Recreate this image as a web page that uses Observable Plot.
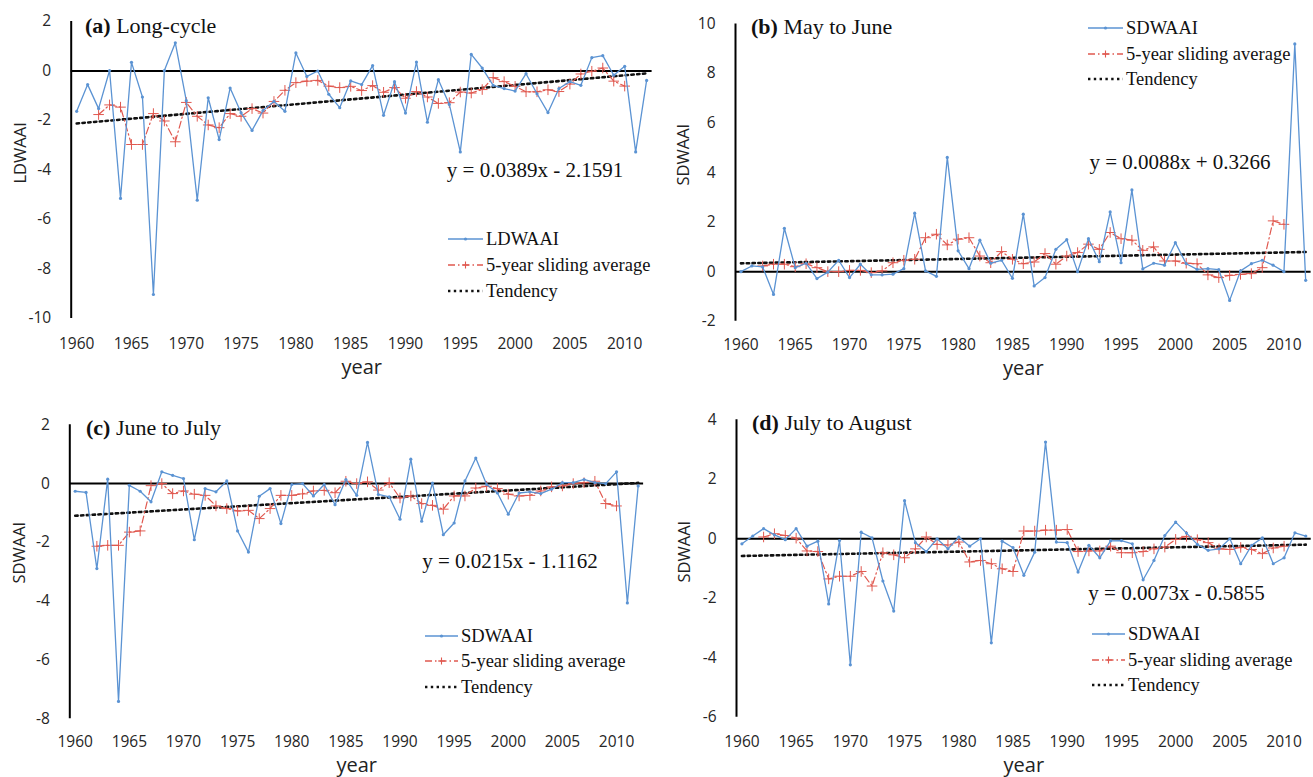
<!DOCTYPE html>
<html><head><meta charset="utf-8">
<script src="https://cdn.jsdelivr.net/npm/d3@7"></script>
<script src="https://cdn.jsdelivr.net/npm/@observablehq/plot@0.6"></script>
<style>
body{margin:0;background:#fff;}
#wrap{position:relative;width:1313px;height:777px;overflow:hidden;background:#fff;}
.panel{position:absolute;}
.panel svg{overflow:visible;}
#overlay{position:absolute;left:0;top:0;pointer-events:none;}
</style></head><body><div id="wrap"></div>
<script>
// ---------- data ----------
const years = [1960,1961,1962,1963,1964,1965,1966,1967,1968,1969,1970,1971,1972,1973,1974,1975,1976,1977,1978,1979,
  1980,1981,1982,1983,1984,1985,1986,1987,1988,1989,1990,1991,1992,1993,1994,1995,1996,1997,1998,1999,
  2000,2001,2002,2003,2004,2005,2006,2007,2008,2009,2010,2011,2012];
const xTicks = [1960,1965,1970,1975,1980,1985,1990,1995,2000,2005,2010];

// (a) Long-cycle LDWAAI
const aValues = [-1.63,-0.55,-1.52,0.02,-5.15,0.35,-1.05,-9.03,0.02,1.14,-1.2,-5.22,-1.08,-2.77,-0.69,-1.69,-2.4,-1.6,-1.23,-1.63,
  0.73,-0.22,0.0,-0.94,-1.48,-0.4,-0.55,0.22,-1.79,-0.43,-1.7,0.36,-2.07,-0.35,-1.35,-3.27,0.67,0.12,-0.58,-0.71,
  -0.81,-0.11,-0.92,-1.68,-0.71,-0.43,-0.58,0.54,0.62,-0.17,0.19,-3.27,-0.38];
const aAvg = [null,null,-1.76,-1.37,-1.46,-2.97,-2.97,-1.72,-2.02,-2.86,-1.27,-1.83,-2.18,-2.29,-1.72,-1.83,-1.52,-1.7,-1.23,-0.78,
  -0.47,-0.41,-0.38,-0.61,-0.67,-0.62,-0.79,-0.59,-0.86,-0.67,-1.1,-0.83,-1.05,-1.31,-1.28,-0.85,-0.89,-0.75,-0.27,-0.43,
  -0.62,-0.84,-0.84,-0.76,-0.83,-0.53,-0.12,-0.01,0.12,-0.41,-0.61,null,null];
const aTrend = [0.0389, -2.1591];
const aTicks = [-10,-8,-6,-4,-2,0,2];

// (b) May to June SDWAAI
const bValues = [0.0,0.23,0.19,-0.92,1.75,0.16,0.34,-0.28,-0.02,0.46,-0.24,0.3,-0.13,-0.13,-0.1,0.12,2.36,0.03,-0.19,4.61,
  0.84,0.12,1.27,0.34,0.46,-0.27,2.32,-0.58,-0.24,0.9,1.29,0.0,1.33,0.4,2.41,0.36,3.3,0.11,0.34,0.26,
  1.17,0.32,0.09,0.12,0.08,-1.16,0.03,0.32,0.46,0.26,0.0,9.19,-0.35];
const bAvg = [null,null,0.23,0.3,0.3,0.2,0.32,0.16,0.0,0.0,0.05,0.05,-0.04,0.03,0.36,0.46,0.5,1.37,1.51,1.08,
  1.31,1.37,0.63,0.36,0.81,0.5,0.32,0.39,0.73,0.3,0.63,0.77,1.11,0.9,1.58,1.33,1.27,0.86,1.0,0.43,
  0.43,0.34,0.32,-0.13,-0.24,-0.15,-0.11,-0.08,0.16,2.05,1.91,null,null];
const bTrend = [0.0088, 0.3266];
const bTicks = [-2,0,2,4,6,8,10];

// (c) June to July SDWAAI
const cValues = [-0.26,-0.3,-2.89,0.15,-7.41,-0.06,-0.26,-0.62,0.4,0.28,0.17,-1.91,-0.17,-0.28,0.09,-1.61,-2.33,-0.43,-0.17,-1.36,
  -0.03,0.0,-0.42,-0.03,-0.72,0.14,-0.4,1.4,-0.37,-0.45,-1.21,0.83,-1.28,0.02,-1.74,-1.34,0.09,0.87,-0.03,-0.32,
  -1.04,-0.32,-0.28,-0.34,-0.19,0.03,0.03,0.14,0.03,0.0,0.4,-4.06,-0.08];
const cAvg = [null,null,-2.13,-2.1,-2.1,-1.65,-1.61,-0.07,0.0,-0.34,-0.25,-0.36,-0.4,-0.76,-0.85,-0.93,-0.91,-1.19,-0.85,-0.4,
  -0.4,-0.35,-0.25,-0.23,-0.31,0.08,0.0,0.06,-0.22,0.03,-0.49,-0.42,-0.68,-0.74,-0.87,-0.42,-0.42,-0.15,-0.09,-0.17,
  -0.36,-0.42,-0.4,-0.25,-0.11,-0.08,0.0,0.03,0.08,-0.68,-0.76,null,null];
const cTrend = [0.0215, -1.1162];
const cTicks = [-8,-6,-4,-2,0,2];

// (d) July to August SDWAAI
const dValues = [-0.17,0.09,0.34,0.13,-0.03,0.34,-0.25,-0.08,-2.19,-0.06,-4.24,0.22,0.03,-1.42,-2.43,1.28,-0.13,-0.43,0.0,-0.34,
  0.06,-0.25,0.0,-3.5,-0.08,-0.3,-1.23,-0.45,3.25,-0.11,-0.13,-1.12,-0.22,-0.64,-0.07,-0.06,-0.17,-1.38,-0.73,0.11,
  0.56,0.19,-0.19,-0.39,-0.34,0.0,-0.84,-0.22,0.03,-0.84,-0.64,0.2,0.09];
const dAvg = [null,null,0.06,0.17,0.11,0.02,-0.41,-0.43,-1.35,-1.26,-1.26,-1.1,-1.59,-0.47,-0.54,-0.64,-0.34,0.06,-0.19,-0.21,
  -0.11,-0.78,-0.73,-0.84,-1.01,-1.1,0.26,0.26,0.29,0.29,0.31,-0.43,-0.41,-0.41,-0.25,-0.47,-0.47,-0.43,-0.34,-0.28,
  -0.02,0.08,-0.03,-0.13,-0.34,-0.36,-0.29,-0.36,-0.5,-0.31,-0.25,null,null];
const dTrend = [0.0073, -0.5855];
const dTicks = [-6,-4,-2,0,2,4];

const titles = [["(a)", "Long-cycle"], ["(b)", "May to June"], ["(c)", "June to July"], ["(d)", "July to August"]];
const equations = ["y = 0.0389x - 2.1591", "y = 0.0088x + 0.3266", "y = 0.0215x - 1.1162", "y = 0.0073x - 0.5855"];
const legendLabels = [["LDWAAI", "5-year sliding average", "Tendency"], ["SDWAAI", "5-year sliding average", "Tendency"],
  ["SDWAAI", "5-year sliding average", "Tendency"], ["SDWAAI", "5-year sliding average", "Tendency"]];
const yLabels = ["LDWAAI", "SDWAAI", "SDWAAI", "SDWAAI"];

// ---------- style ----------
const blue = "#5b93d3";
const red = "#e0584f";
const sans = "'Open Sans', 'Liberation Sans', Arial, sans-serif";
const serif = "'Liberation Serif', 'Times New Roman', serif";
const fmt = d => (d < 0 ? "-" + Math.abs(d) : String(d));

const layout = [
  {left:0, top:0, width:656, height:390, ml:70.7, mr:4.4, mt:21, mb:72, xPad:19.5, yearDy:55, ylDx:-50.7, ylDy:13.5,
   title:[85,32.7], eq:[535,177], leg:{x0:448,x1:483,rows:[239,265,291]}},
  {left:655, top:0, width:658, height:390, ml:80, mr:2.4, mt:23.4, mb:69.3, xPad:18, yearDy:53.3, ylDx:-52, ylDy:13,
   title:[751,34], eq:[1180,169], leg:{x0:1088,x1:1123,rows:[28,54,79]}},
  {left:0, top:390, width:656, height:387, ml:69.3, mr:12.9, mt:34.3, mb:58.7, xPad:17.3, yearDy:52.7, ylDx:-50, ylDy:11.7,
   title:[86,435], eq:[510,568.3], leg:{x0:425,x1:458,rows:[636,661,687]}},
  {left:655, top:390, width:658, height:387, ml:81, mr:2.3, mt:29.3, mb:60.3, xPad:18.6, yearDy:54.3, ylDx:-52, ylDy:14,
   title:[752,430], eq:[1176.5,600], leg:{x0:1092,x1:1125,rows:[634,660,685]}}
];
const series = [
  {values:aValues, avg:aAvg, trend:aTrend, ticks:aTicks},
  {values:bValues, avg:bAvg, trend:bTrend, ticks:bTicks},
  {values:cValues, avg:cAvg, trend:cTrend, ticks:cTicks},
  {values:dValues, avg:dAvg, trend:dTrend, ticks:dTicks}
];

function panel(s, L, ylabel) {
  const data = years.map((yr, i) => ({year: yr, v: s.values[i], a: s.avg[i]}));
  const ends = [years[0], years[years.length - 1]];
  const trend = ends.map(yr => ({year: yr, t: s.trend[0] * (yr - years[0] + 1) + s.trend[1]}));
  const yDomain = [s.ticks[0], s.ticks[s.ticks.length - 1]];
  return Plot.plot({
    width: L.width, height: L.height,
    marginLeft: L.ml, marginRight: L.mr, marginTop: L.mt, marginBottom: L.mb,
    style: {background: "transparent", fontFamily: sans, fontSize: "15.5px", color: "#262626", overflow: "visible"},
    x: {domain: [1959.5, 2012.5], label: null},
    y: {domain: yDomain, label: null},
    marks: [
      Plot.axisX({ticks: xTicks, tickSize: 0, tickPadding: L.xPad, tickFormat: d => String(d), label: null}),
      Plot.axisY({ticks: s.ticks, tickSize: 0, tickPadding: 20, tickFormat: fmt, label: null}),
      Plot.ruleX([1959.5], {stroke: "#000", strokeWidth: 2}),
      Plot.ruleY([0], {stroke: "#000", strokeWidth: 2}),
      Plot.line(trend, {x: "year", y: "t", stroke: "#111", strokeWidth: 2.6, strokeDasharray: "2.4,3.4"}),
      Plot.line(data, {x: "year", y: "a", stroke: red, strokeWidth: 1.2, strokeDasharray: "7,3,1.5,3"}),
      Plot.dot(data, {x: "year", y: "a", symbol: "plus", r: 3.5, stroke: red, strokeWidth: 1}),
      Plot.line(data, {x: "year", y: "v", stroke: blue, strokeWidth: 1.3}),
      Plot.dot(data, {x: "year", y: "v", r: 1.6, fill: blue, stroke: null}),
      Plot.text(["year"], {text: d => d, frameAnchor: "bottom", lineAnchor: "bottom", dy: L.yearDy, fontSize: 20, fill: "#222"}),
      Plot.text([ylabel], {text: d => d, frameAnchor: "left", rotate: -90, dx: L.ylDx, dy: L.ylDy, fontSize: 16.5, fill: "#222"})
    ]
  });
}

const wrap = document.getElementById("wrap");
series.forEach((s, i) => {
  const L = layout[i];
  const div = document.createElement("div");
  div.className = "panel";
  div.style.left = L.left + "px";
  div.style.top = L.top + "px";
  div.style.width = L.width + "px";
  div.style.height = L.height + "px";
  div.appendChild(panel(s, L, yLabels[i]));
  wrap.appendChild(div);
});

// ---------- titles, equations, legends ----------
const NS = "http://www.w3.org/2000/svg";
const ov = document.createElementNS(NS, "svg");
ov.setAttribute("id", "overlay");
ov.setAttribute("width", 1313);
ov.setAttribute("height", 777);
function el(tag, attrs, parent) {
  const e = document.createElementNS(NS, tag);
  for (const k in attrs) e.setAttribute(k, attrs[k]);
  (parent || ov).appendChild(e);
  return e;
}
layout.forEach((L, i) => {
  const t = el("text", {x: L.title[0], y: L.title[1], "font-family": serif, "font-size": 22, fill: "#111"});
  const b = el("tspan", {"font-weight": "bold"}, t); b.textContent = titles[i][0];
  const r = el("tspan", {}, t); r.textContent = " " + titles[i][1];
  const eq = el("text", {x: L.eq[0], y: L.eq[1], "text-anchor": "middle", "font-family": serif, "font-size": 21, fill: "#111"});
  eq.textContent = equations[i];
  const g = L.leg, xm = (g.x0 + g.x1) / 2;
  // row 1 : series
  el("line", {x1: g.x0, x2: g.x1, y1: g.rows[0], y2: g.rows[0], stroke: blue, "stroke-width": 1.3});
  el("circle", {cx: xm, cy: g.rows[0], r: 1.6, fill: blue});
  // row 2 : sliding average
  el("line", {x1: g.x0, x2: g.x1, y1: g.rows[1], y2: g.rows[1], stroke: red, "stroke-width": 1.3, "stroke-dasharray": "7,3,1.5,3"});
  el("path", {d: `M${xm - 3.5},${g.rows[1]}h7M${xm},${g.rows[1] - 3.5}v7`, stroke: red, "stroke-width": 1.1, fill: "none"});
  // row 3 : tendency
  el("line", {x1: g.x0, x2: g.x1, y1: g.rows[2], y2: g.rows[2], stroke: "#111", "stroke-width": 2.6, "stroke-dasharray": "2.4,3.4"});
  legendLabels[i].forEach((lab, j) => {
    const tx = el("text", {x: g.x1 + 3, y: g.rows[j] + 6.2, "font-family": serif, "font-size": 18.5, fill: "#111"});
    tx.textContent = lab;
  });
});
wrap.appendChild(ov);
</script>
</body></html>
